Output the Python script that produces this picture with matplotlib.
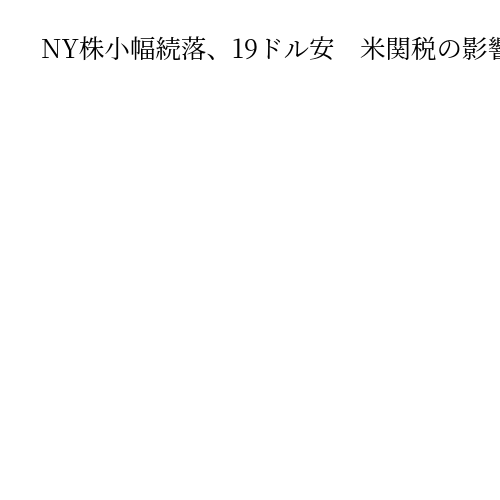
import matplotlib
matplotlib.use("Agg")
from matplotlib import pyplot as plt

title = "NY株小幅続落、19ドル安　米関税の影響"

fig = plt.figure(figsize=(5, 5), dpi=100)
fig.patch.set_facecolor("white")
fig.text(41 / 500, 1 - 52 / 500, title, ha="left", va="center",
         fontsize=18.4, color="#000000",
         family=["Noto Serif CJK JP", "Noto Sans CJK JP", "DejaVu Sans"])

fig.savefig("out.png", dpi=100)
